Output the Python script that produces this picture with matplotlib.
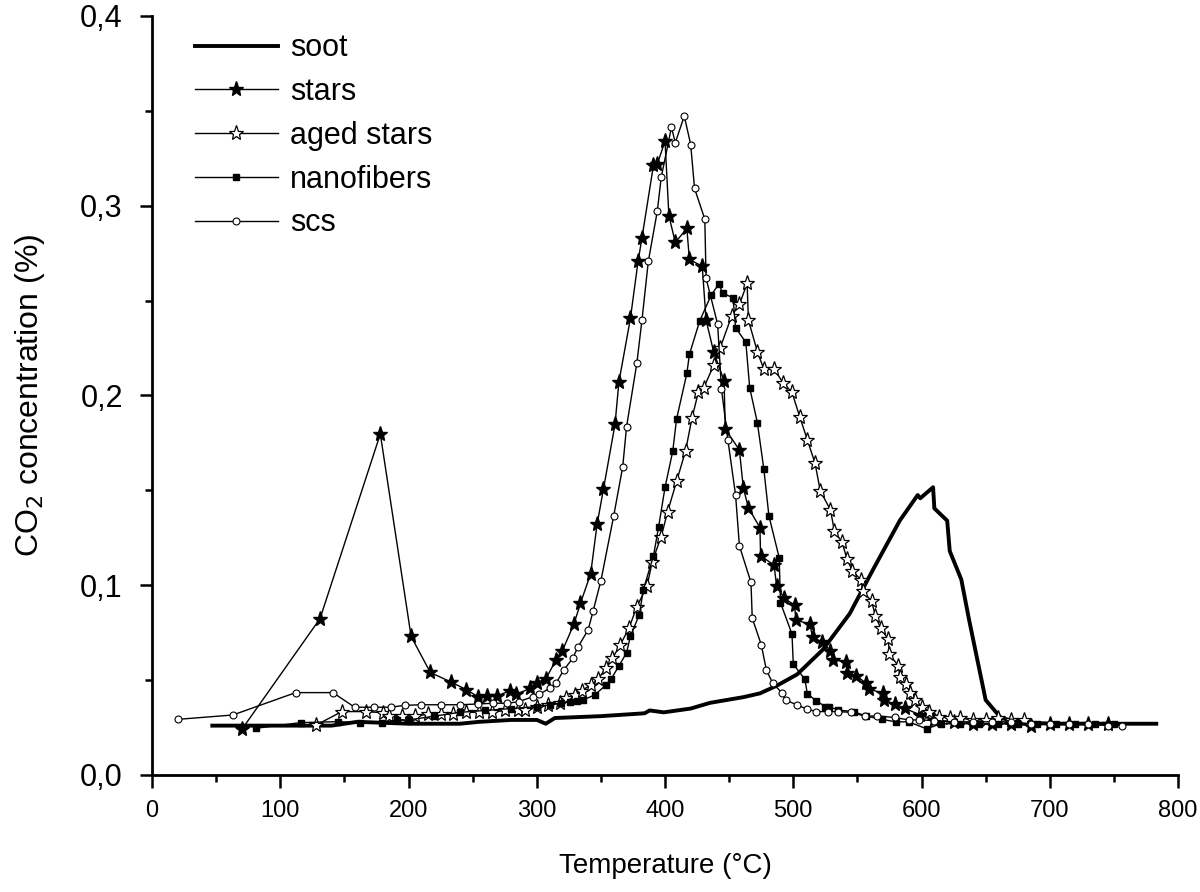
import matplotlib
matplotlib.use("Agg")
import matplotlib.pyplot as plt
from matplotlib.ticker import MultipleLocator

plt.rcParams['font.family'] = ['Liberation Sans', 'DejaVu Sans']

# soot
soot_t = [47, 100, 140, 160, 200, 240, 255, 280, 300, 307, 314, 350, 384, 388, 399, 420,
          435, 461, 474, 487, 503, 523, 544, 562, 583, 597, 599, 609, 610, 620, 622, 631,
          637, 650, 662, 675, 700, 750, 783]
soot_v = [0.026, 0.026, 0.026, 0.028, 0.027, 0.027, 0.028, 0.029, 0.029, 0.027, 0.030, 0.031,
          0.0325, 0.034, 0.033, 0.035, 0.038, 0.041, 0.043, 0.047, 0.053, 0.066, 0.085, 0.108,
          0.134, 0.1475, 0.1458, 0.1516, 0.1405, 0.134, 0.118, 0.103, 0.082, 0.0395, 0.030,
          0.028, 0.027, 0.027, 0.027]

# stars
stars_t = [70, 131, 178, 202, 217, 233, 245, 254, 261, 269, 279, 284, 295, 300, 307, 315,
           320, 329, 334, 342, 347, 352, 361, 364, 373, 379, 382, 391, 394, 400, 403, 408,
           417, 419, 429, 432, 438, 446, 447, 458, 461, 465, 474, 474.5, 485, 487, 493, 501,
           502, 513, 515, 522, 529, 531, 541, 542, 549, 557, 559, 570, 571, 579, 587, 599,
           610, 625, 640, 655, 670, 685, 700, 715, 730, 745]
stars_v = [0.024, 0.0824, 0.1797, 0.073, 0.054, 0.049, 0.045, 0.0413, 0.0416, 0.0416, 0.0444,
           0.0425, 0.0457, 0.0487, 0.0506, 0.0606, 0.0655, 0.0796, 0.0904, 0.106, 0.132,
           0.1507, 0.1848, 0.2069, 0.2406, 0.2708, 0.283, 0.3214, 0.322, 0.334, 0.2947,
           0.2806, 0.288, 0.2717, 0.268, 0.2397, 0.2227, 0.2078, 0.1823, 0.1712, 0.1514,
           0.1408, 0.1303, 0.1155, 0.1106, 0.0996, 0.093, 0.0896, 0.0817, 0.0794, 0.0727,
           0.0702, 0.0655, 0.0606, 0.0597, 0.0536, 0.0523, 0.0483, 0.0453, 0.043, 0.0395,
           0.0372, 0.0351, 0.0316, 0.029, 0.028, 0.027, 0.027, 0.027, 0.026, 0.027, 0.027,
           0.027, 0.027]

# aged stars
aged_t = [128, 148, 167, 180, 185, 195, 205, 215, 225, 235, 245, 255, 265, 275, 285, 291,
          300, 309, 318, 323, 330, 335, 342, 348, 354, 359, 365, 372, 378, 386, 390, 397,
          402, 409, 416, 421, 426, 430, 438, 443, 452, 458, 464, 465, 472, 477, 485, 492,
          499, 505, 511, 517, 521, 529, 532, 538, 542, 546, 553, 554, 561, 564, 568, 574,
          575, 582, 583, 588, 591, 595, 600, 606, 614, 622, 630, 640, 650, 660, 670, 680]
aged_v = [0.0263, 0.0334, 0.0334, 0.0328, 0.031, 0.031, 0.031, 0.032, 0.032, 0.032, 0.033,
          0.033, 0.033, 0.034, 0.034, 0.0342, 0.036, 0.0369, 0.0378, 0.0404, 0.0421, 0.0444,
          0.0474, 0.0506, 0.0565, 0.0615, 0.0685, 0.0775, 0.0887, 0.0995, 0.1124, 0.1256,
          0.1387, 0.1547, 0.1708, 0.188, 0.2018, 0.2037, 0.216, 0.2251, 0.242, 0.248, 0.259,
          0.2397, 0.223, 0.2139, 0.2139, 0.2067, 0.2016, 0.1888, 0.1765, 0.1642, 0.1498,
          0.1396, 0.1287, 0.1226, 0.1136, 0.1076, 0.1027, 0.0969, 0.0917, 0.0838, 0.0776,
          0.0715, 0.0636, 0.0574, 0.0518, 0.0478, 0.0434, 0.0395, 0.036, 0.0334, 0.0307,
          0.030, 0.030, 0.029, 0.029, 0.030, 0.029, 0.029]

# nanofibers
nano_t = [81, 116, 145, 162, 179, 191, 200, 220, 240, 260, 280, 300, 310, 319, 326, 331,
          336, 345, 354, 358, 364, 370, 373, 380, 383, 391, 395, 400, 406, 409, 417, 419,
          427, 436, 442, 445, 453, 455, 463, 466, 472, 477, 481, 489, 490, 499, 500, 509,
          511, 518, 525, 528, 535, 547, 557, 569, 580, 590, 604, 615, 630, 645, 660, 675,
          690, 705, 720, 735, 750]
nano_v = [0.0246, 0.0276, 0.0281, 0.0276, 0.0276, 0.029, 0.029, 0.031, 0.033, 0.034, 0.035,
          0.036, 0.037, 0.038, 0.0386, 0.039, 0.0395, 0.0421, 0.0474, 0.0506, 0.0574, 0.0644,
          0.0732, 0.0845, 0.0975, 0.1155, 0.1308, 0.1516, 0.1706, 0.1876, 0.2116, 0.2216,
          0.2392, 0.2529, 0.2587, 0.2538, 0.2515, 0.2357, 0.228, 0.2041, 0.1856, 0.1614,
          0.1365, 0.1145, 0.0908, 0.0742, 0.0584, 0.0504, 0.0427, 0.0391, 0.036, 0.036,
          0.0342, 0.0334, 0.031, 0.0293, 0.028, 0.028, 0.0243, 0.027, 0.027, 0.027, 0.027,
          0.027, 0.027, 0.027, 0.027, 0.027, 0.027]

# scs
scs_t = [20, 63, 112, 141, 158, 173, 186, 197, 210, 225, 240, 254, 266, 277, 286, 297, 302,
         310, 315, 321, 328, 332, 340, 344, 350, 360, 367, 370, 378, 382, 387, 394, 397,
         405, 408, 415, 420, 423, 431, 432, 441, 444, 449, 455, 458, 467, 468, 475, 479,
         484, 491, 494, 503, 511, 518, 527, 535, 545, 556, 565, 579, 590, 598, 610, 625,
         640, 655, 670, 685, 700, 715, 730, 745, 756]
scs_v = [0.0293, 0.0316, 0.0434, 0.0434, 0.0357, 0.0357, 0.0357, 0.0367, 0.037, 0.037,
         0.037, 0.0374, 0.0378, 0.0378, 0.0386, 0.0413, 0.0425, 0.0457, 0.0483, 0.0553,
         0.0615, 0.0673, 0.0764, 0.0866, 0.1024, 0.1366, 0.1624, 0.1835, 0.2169, 0.2397,
         0.2708, 0.2972, 0.3149, 0.3413, 0.3332, 0.3472, 0.3322, 0.3091, 0.2929, 0.2617,
         0.2376, 0.2034, 0.1765, 0.1475, 0.1207, 0.1015, 0.0826, 0.0687, 0.0553, 0.0483,
         0.0434, 0.0395, 0.0369, 0.0346, 0.0334, 0.0334, 0.0334, 0.033, 0.031, 0.0311,
         0.0303, 0.029, 0.029, 0.0287, 0.028, 0.028, 0.028, 0.028, 0.027, 0.027, 0.027,
         0.027, 0.026, 0.026]

y_ticks = [0.0, 0.1, 0.2, 0.3, 0.4]
y_labels = ['0,0', '0,1', '0,2', '0,3', '0,4']
x_ticks = [0, 100, 200, 300, 400, 500, 600, 700, 800]

fig = plt.figure(figsize=(12, 8.92), dpi=100)
ax = fig.add_axes([0.1267, 0.1312, 0.855, 0.851])

ax.plot(soot_t, soot_v, color='black', lw=2.8, label='soot', zorder=2)
ax.plot(stars_t, stars_v, color='black', lw=1, marker='*', ms=11, mfc='black',
        mec='black', label='stars', zorder=3)
ax.plot(aged_t, aged_v, color='black', lw=1, marker='*', ms=11, mfc='white',
        mec='black', mew=0.9, label='aged stars', zorder=3)
ax.plot(nano_t, nano_v, color='black', lw=1, marker='s', ms=4, mfc='black',
        mec='black', label='nanofibers', zorder=3)
ax.plot(scs_t, scs_v, color='black', lw=1, marker='o', ms=5, mfc='white',
        mec='black', mew=0.8, label='scs', zorder=4)

ax.set_xlim(0, 800)
ax.set_ylim(0, 0.4)
ax.set_xticks(x_ticks)
ax.set_yticks(y_ticks)
ax.set_yticklabels(y_labels)
ax.xaxis.set_minor_locator(MultipleLocator(50))
ax.yaxis.set_minor_locator(MultipleLocator(0.05))

for side in ['top', 'right']:
    ax.spines[side].set_visible(False)
for side in ['left', 'bottom']:
    ax.spines[side].set_linewidth(2)

ax.tick_params(which='major', direction='out', length=9, width=1.8)
ax.tick_params(which='minor', direction='out', length=5, width=1.8)
ax.tick_params(axis='x', labelsize=17, pad=9)
ax.tick_params(axis='y', labelsize=22, pad=12)

ax.set_xlabel('Temperature (°C)', fontsize=20, labelpad=22)
ax.set_ylabel('CO$_2$ concentration (%)', fontsize=23, labelpad=24)

ax.legend(loc='upper left', bbox_to_anchor=(0.030, 0.993), frameon=False,
          fontsize=22, handlelength=2.7, labelspacing=0.45, handletextpad=0.4,
          borderaxespad=0)

fig.savefig('out.png', dpi=100)
